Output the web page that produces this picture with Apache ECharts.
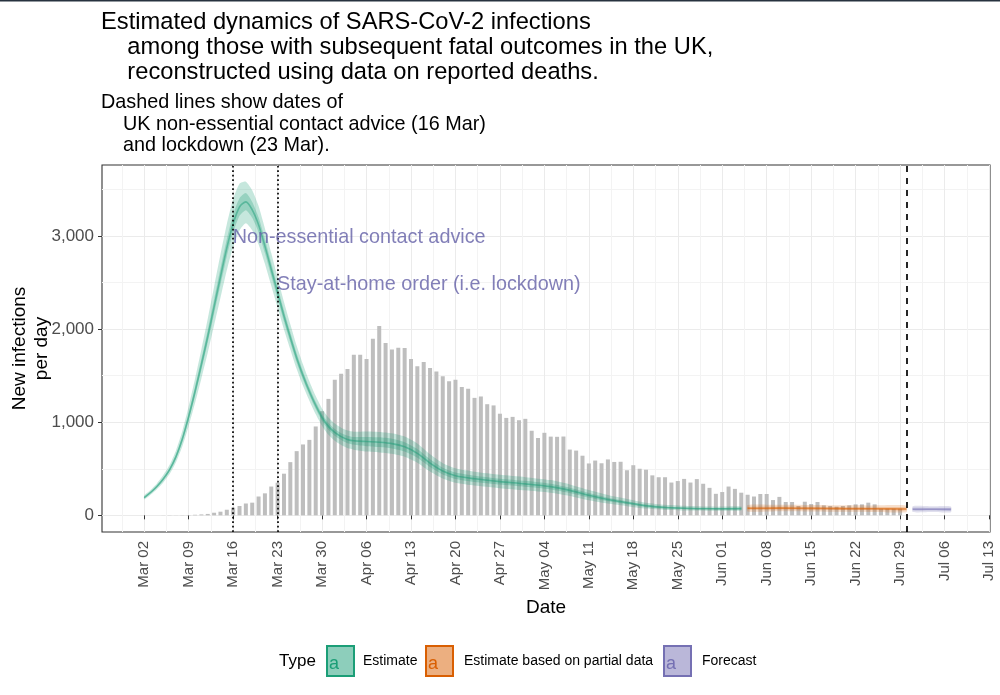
<!DOCTYPE html>
<html><head><meta charset="utf-8">
<script src="https://cdn.jsdelivr.net/npm/echarts@6/dist/echarts.min.js"></script>
<style>html,body{margin:0;padding:0;background:#fff}#c{width:1000px;height:695px}</style>
</head><body><div id="c"></div>
<script>
const DAY = 86400000;
function d(s){ const p = s.split('-').map(Number); return Date.UTC(p[0], p[1]-1, p[2]); }
const MONTHS = ['Jan','Feb','Mar','Apr','May','Jun','Jul','Aug','Sep','Oct','Nov','Dec'];

// ---- axis ticks ----
const xTickDates = ['2020-03-02','2020-03-09','2020-03-16','2020-03-23','2020-03-30','2020-04-06','2020-04-13',
  '2020-04-20','2020-04-27','2020-05-04','2020-05-11','2020-05-18','2020-05-25','2020-06-01','2020-06-08',
  '2020-06-15','2020-06-22','2020-06-29','2020-07-06','2020-07-13'];
const yTickValues = [0, 1000, 2000, 3000];
const yMinorValues = [500, 1500, 2500, 3500];

// ---- reported daily deaths (grey bars), one value per day from deathsStart ----
const deathsStart = '2020-03-05';
const deaths = [1,2,1,2,3,6,10,15,28,39,60,82,100,127,136,202,236,309,350,447,571,689,761,810,954,1118,1250,
  1455,1521,1571,1725,1725,1679,1895,2032,1850,1779,1798,1796,1679,1600,1646,1582,1545,1493,1439,1455,1379,1359,
  1261,1276,1193,1180,1091,1046,1057,1021,1036,908,830,886,845,843,846,706,695,640,557,588,559,600,573,575,484,
  538,500,490,429,409,409,352,368,391,352,389,339,295,231,250,309,284,243,221,202,229,229,164,198,143,143,100,
  146,121,143,107,100,93,100,107,118,118,136,118,71,71,71,71];

// ---- Estimate (green) ----
const estDates = ['2020-03-02','2020-03-03','2020-03-04','2020-03-05','2020-03-06','2020-03-07','2020-03-08',
  '2020-03-09','2020-03-10','2020-03-11','2020-03-12','2020-03-13','2020-03-14','2020-03-15','2020-03-16',
  '2020-03-17','2020-03-18','2020-03-19','2020-03-20','2020-03-21','2020-03-22','2020-03-23','2020-03-24',
  '2020-03-25','2020-03-26','2020-03-27','2020-03-28','2020-03-29','2020-03-30','2020-03-31','2020-04-01',
  '2020-04-02','2020-04-03','2020-04-04','2020-04-06','2020-04-08','2020-04-10','2020-04-12','2020-04-14',
  '2020-04-16','2020-04-18','2020-04-20','2020-04-23','2020-04-27','2020-05-01','2020-05-05','2020-05-08',
  '2020-05-11','2020-05-14','2020-05-17','2020-05-20','2020-05-23','2020-05-27','2020-05-31','2020-06-04'];
const estMid  = [190,245,310,390,490,630,820,1060,1330,1620,1920,2240,2560,2870,3130,3310,3365,3280,3120,2890,
  2640,2390,2140,1910,1690,1500,1330,1180,1050,955,890,845,815,800,792,785,770,735,665,560,475,425,392,362,338,
  308,268,215,170,135,102,84,74,70,72];
const estLo90 = [170,220,280,352,443,570,742,960,1205,1470,1745,2040,2335,2630,2880,3060,3135,3060,2910,2700,
  2465,2230,1995,1780,1570,1390,1230,1085,960,865,800,755,722,705,685,675,660,628,565,470,395,350,320,292,268,
  242,208,162,126,98,72,58,52,50,52];
const estHi90 = [212,272,343,432,542,697,905,1170,1465,1782,2110,2455,2800,3125,3395,3560,3582,3490,3320,3080,
  2815,2550,2290,2050,1820,1620,1440,1280,1145,1050,985,940,910,897,900,895,880,845,770,655,560,505,468,435,410,
  378,332,272,218,176,136,113,99,92,94];
const estLo50 = [182,236,299,376,472,607,790,1022,1283,1563,1855,2165,2475,2780,3035,3215,3275,3195,3040,2815,
  2570,2325,2080,1855,1640,1455,1290,1142,1013,918,853,808,775,760,742,733,718,685,618,518,438,390,358,330,306,
  278,241,191,150,118,88,72,64,61,63];
const estHi50 = [199,255,322,405,509,654,851,1100,1380,1680,1990,2318,2650,2965,3230,3405,3460,3365,3200,2965,
  2710,2455,2200,1965,1740,1545,1372,1218,1087,992,927,882,855,840,842,837,822,785,712,602,512,460,426,394,370,
  338,295,239,190,152,116,96,84,79,81];

// ---- Estimate based on partial data (orange) ----
const partDates = ['2020-06-05','2020-06-10','2020-06-15','2020-06-20','2020-06-25','2020-06-30'];
const partMid  = [76,77,75,72,70,68];
const partLo90 = [42,43,41,38,36,34];
const partHi90 = [112,113,111,108,106,104];
const partLo50 = [60,61,59,56,54,52];
const partHi50 = [93,94,92,89,87,85];

// ---- Forecast (purple) ----
const fcDates = ['2020-07-01','2020-07-04','2020-07-07'];
const fcMid  = [66,65,64];
const fcLo90 = [36,35,34];
const fcHi90 = [98,97,96];
const fcLo50 = [52,51,50];
const fcHi50 = [82,81,80];

// ---- events ----
const eventDates = ['2020-03-16','2020-03-23'];
const eventLabels = ['Non-essential contact advice','Stay-at-home order (i.e. lockdown)'];
const eventLabelY = [3000, 2500];
const dataEndDate = '2020-06-30';

const legendNames = ['Estimate','Estimate based on partial data','Forecast'];

// ---------------------------------------------------------------
const FONT = 'Liberation Sans, Arial, Helvetica, sans-serif';
const GREEN = '#1b9e77', ORANGE = '#d95f02', PURPLE = '#7570b3';
function rgba(hex, a){ const n = parseInt(hex.slice(1),16); return `rgba(${n>>16},${(n>>8)&255},${n&255},${a})`; }
function pairs(dates, vals){ return dates.map((s,i)=>[d(s), vals[i]]); }
const SM = 0.3;

// Ribbon between lo and hi, drawn as one polygon positioned through the axes (api.coord)
function band(dates, lo, hi, color){
  const rows = dates.map((s,i)=>[d(s), lo[i], hi[i]]);
  return {
    type:'custom', data:rows, encode:{x:0, y:[1,2]}, silent:true, z:3, clip:true,
    renderItem:(params, api)=>{
      if (params.dataIndex !== 0) return null;
      const top = rows.map(r=>api.coord([r[0], r[2]]));
      const bot = rows.slice().reverse().map(r=>api.coord([r[0], r[1]]));
      return {type:'polygon', shape:{points:top.concat(bot), smooth:0.2},
              style:{fill:color}};
    }
  };
}
function midLine(dates, vals, color){
  return {type:'line', data:pairs(dates, vals), smooth:SM, symbol:'none',
    lineStyle:{color, width:1.6}, silent:true, z:4};
}

const xMin = d('2020-03-02') - 6.65*DAY;
const xMax = d('2020-07-13') + 0.16*DAY;
const xTicks = xTickDates.map(d);
const xMinor = xTicks.map(t=>t-3.5*DAY);
const fmtDate = v => { const dt = new Date(v); return MONTHS[dt.getUTCMonth()] + ' ' + String(dt.getUTCDate()).padStart(2,'0'); };
const fmtNum = v => String(v).replace(/\B(?=(\d{3})+(?!\d))/g, ',');

const series = [];
series.push({type:'bar', data:deaths.map((v,i)=>[d(deathsStart)+i*DAY, v]), barWidth:4,
  itemStyle:{color:'#bebebe'}, silent:true, z:2});
series.push(band(estDates, estLo90, estHi90, rgba(GREEN,0.25)));
series.push(band(estDates, estLo50, estHi50, rgba(GREEN,0.28)));
series.push(midLine(estDates, estMid, rgba(GREEN,0.5)));
series.push(band(partDates, partLo90, partHi90, rgba(ORANGE,0.2)));
series.push(band(partDates, partLo50, partHi50, rgba(ORANGE,0.22)));
series.push(midLine(partDates, partMid, rgba(ORANGE,0.6)));
series.push(band(fcDates, fcLo90, fcHi90, rgba(PURPLE,0.22)));
series.push(band(fcDates, fcLo50, fcHi50, rgba(PURPLE,0.25)));
series.push(midLine(fcDates, fcMid, rgba(PURPLE,0.55)));
series.push({type:'scatter', data:eventDates.map((s,i)=>[d(s), eventLabelY[i], eventLabels[i]]),
  symbolSize:1, itemStyle:{color:'rgba(0,0,0,0)'}, silent:true, z:6,
  label:{show:true, position:'right', distance:0, offset:[-1,2], formatter:p=>p.data[2], color:'#635fa6', fontSize:19.8, fontFamily:FONT},
  markLine:{silent:true, symbol:['none','none'], label:{show:false},
    data:[
      {xAxis:d(eventDates[0]), lineStyle:{color:'#000', width:1.7, type:[1.7,2.8], cap:'butt'}},
      {xAxis:d(eventDates[1]), lineStyle:{color:'#000', width:1.7, type:[1.7,2.8], cap:'butt'}},
      {xAxis:d(dataEndDate), lineStyle:{color:'#000', width:1.7, type:[6,6]}}
    ]}
});

const lgY = 661;
const graphic = [
  {type:'rect', shape:{x:0,y:0,width:1000,height:1.5}, style:{fill:'#27323f'}},
  {type:'text', x:279, y:lgY, style:{text:'Type', fontSize:17, fontFamily:FONT, fill:'#000', verticalAlign:'middle'}}
];
const lgBoxes = [[327, GREEN], [426, ORANGE], [664, PURPLE]];
const lgText = [363, 464, 702];
lgBoxes.forEach(([x,c],i)=>{
  graphic.push({type:'rect', shape:{x:x, y:646, width:27, height:30}, style:{fill:rgba(c,0.5), stroke:c, lineWidth:2}});
  graphic.push({type:'text', x:x+2, y:lgY+3, style:{text:'a', fontSize:18, fontFamily:FONT, fill:c, verticalAlign:'middle'}});
  graphic.push({type:'text', x:lgText[i], y:lgY, style:{text:legendNames[i], fontSize:14, fontFamily:FONT, fill:'#000', verticalAlign:'middle'}});
});

const chart = echarts.init(document.getElementById('c'), null, {renderer:'canvas'});
chart.setOption({
  animation:false,
  backgroundColor:'#fff',
  textStyle:{fontFamily:FONT},
  title:{
    left:101, top:10, padding:0, itemGap:7,
    text:'Estimated dynamics of SARS-CoV-2 infections\n    among those with subsequent fatal outcomes in the UK,\n    reconstructed using data on reported deaths.',
    textStyle:{fontSize:23.7, fontWeight:'normal', color:'#000', lineHeight:25, fontFamily:FONT},
    subtext:'Dashed lines show dates of\n    UK non-essential contact advice (16 Mar)\n    and lockdown (23 Mar).',
    subtextStyle:{fontSize:19.8, color:'#000', lineHeight:21.5, fontFamily:FONT}
  },
  grid:{left:102, right:10, top:165, bottom:163, containLabel:false, outerBoundsMode:'none',
    show:true, borderColor:'#333', borderWidth:1.1, backgroundColor:'#fff'},
  xAxis:[
    {type:'value', min:xMin, max:xMax,
     axisLine:{show:false},
     axisTick:{show:true, length:4, lineStyle:{color:'#333'}, customValues:xTicks},
     axisLabel:{customValues:xTicks, formatter:fmtDate, rotate:90, margin:9, fontSize:15, color:'#4d4d4d', fontFamily:FONT},
     splitLine:{show:true, lineStyle:{color:'#ebebeb', width:1}},
     name:'Date', nameLocation:'middle', nameGap:64, nameTextStyle:{fontSize:19, color:'#000', fontFamily:FONT}},
    {type:'value', min:xMin, max:xMax, position:'bottom',
     axisLine:{show:false}, axisTick:{show:false, customValues:xMinor}, axisLabel:{show:false},
     splitLine:{show:true, lineStyle:{color:'#f3f3f3', width:1}}}
  ],
  yAxis:[
    {type:'value', min:-179, max:3761,
     axisLine:{show:false},
     axisTick:{show:true, length:4, lineStyle:{color:'#333'}, customValues:yTickValues},
     axisLabel:{customValues:yTickValues, formatter:fmtNum, margin:8, fontSize:17, color:'#4d4d4d', fontFamily:FONT},
     splitLine:{show:true, lineStyle:{color:'#ebebeb', width:1}},
     name:'New infections\nper day', nameLocation:'middle', nameGap:49, nameRotate:90, nameMoveOverlap:false,
     nameTextStyle:{fontSize:19, color:'#000', lineHeight:22, fontFamily:FONT}},
    {type:'value', min:-179, max:3761, position:'left',
     axisLine:{show:false}, axisTick:{show:false, customValues:yMinorValues}, axisLabel:{show:false},
     splitLine:{show:true, lineStyle:{color:'#f3f3f3', width:1}}}
  ],
  series,
  graphic
});
</script></body></html>
